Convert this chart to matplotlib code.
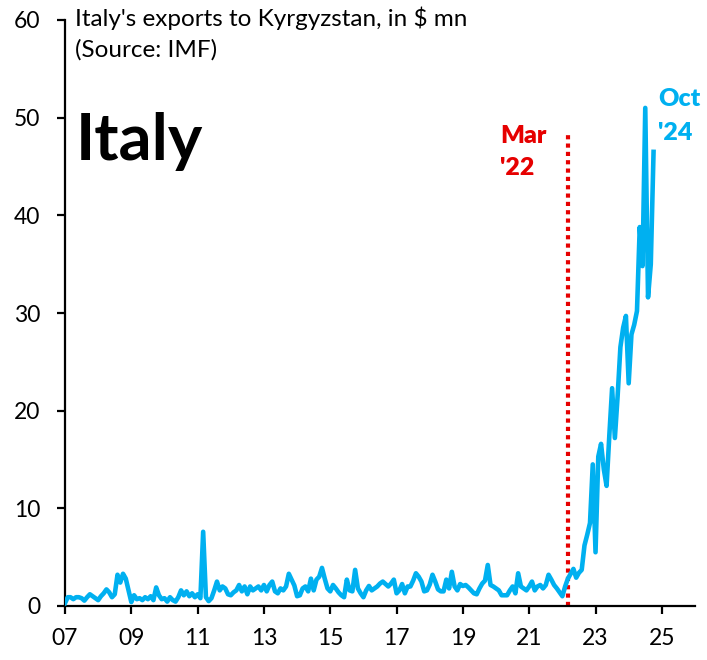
import numpy as np
import matplotlib
matplotlib.use("Agg")
import matplotlib.pyplot as plt

# monthly exports, $ mn, Jan 2007 .. Oct 2024
exports_07_10 = [0.3, 0.9, 0.9, 0.7, 0.9, 0.9, 0.8, 0.55, 0.9, 1.2, 1.0, 0.8,
                 0.6, 1.0, 1.3, 1.7, 1.4, 0.9, 1.2, 3.2, 2.4, 3.3, 2.8, 1.6,
                 0.4, 1.1, 0.7, 0.8, 0.6, 0.9, 0.7, 1.0, 0.6, 1.9, 1.1, 0.7,
                 0.8, 0.45, 0.9, 0.6, 0.45, 0.9, 1.6, 1.1, 1.5, 1.0, 1.3, 0.9]
exports_11_14 = [1.2, 0.8, 7.6, 0.9, 0.5, 0.8, 1.6, 2.5, 1.6, 2.0, 1.8, 1.2,
                 1.1, 1.4, 1.6, 2.15, 1.5, 2.0, 1.2, 2.0, 1.6, 1.8, 2.0, 1.6,
                 2.15, 1.5, 2.15, 2.5, 1.5, 1.3, 1.8, 1.6, 2.0, 3.3, 2.7, 2.1,
                 1.0, 1.1, 1.8, 2.0, 1.5, 2.8, 1.6, 2.7, 3.0, 3.9, 2.8, 1.8]
exports_15_18 = [1.5, 2.15, 1.8, 1.4, 1.1, 0.9, 2.7, 1.6, 1.5, 3.7, 1.8, 1.3,
                 0.9, 1.6, 2.05, 1.6, 1.8, 2.0, 2.3, 2.5, 2.25, 2.0, 2.3, 2.7,
                 1.3, 1.6, 2.25, 1.3, 2.0, 2.0, 2.6, 3.35, 3.0, 2.5, 1.5, 1.6,
                 2.2, 3.2, 2.5, 1.7, 1.5, 1.5, 2.7, 1.8, 3.5, 2.0, 1.6, 2.25]
exports_19_21 = [2.05, 2.15, 1.9, 1.6, 1.3, 1.2, 1.8, 2.3, 2.6, 4.2, 2.15, 2.0,
                 1.8, 1.6, 1.1, 1.1, 1.1, 1.6, 2.0, 1.3, 3.35, 2.0, 1.8, 1.6,
                 2.0, 2.5, 1.6, 2.0, 2.15, 1.8, 2.15, 3.2, 2.7, 2.15, 1.8, 1.4]
exports_22_24 = [1.0, 2.0, 2.8, 3.3, 3.8, 2.9, 3.4, 3.7, 6.2, 7.3, 8.5, 14.5,
                 5.5, 15.3, 16.6, 14.0, 12.3, 17.5, 22.3, 17.2, 21.5, 26.5, 28.5, 29.7,
                 22.8, 27.8, 28.8, 30.2, 38.8, 34.8, 51.0, 31.6, 35.0, 46.5]
exports = exports_07_10 + exports_11_14 + exports_15_18 + exports_19_21 + exports_22_24

year_labels = ["07", "09", "11", "13", "15", "17", "19", "21", "23", "25"]
invasion_month = 182  # Mar 2022, months since Jan 2007

blue = "#00B0F0"
red = "#E60000"
plt.rcParams["font.family"] = ["Lato", "DejaVu Sans"]

fig = plt.figure(figsize=(7.07, 6.6), dpi=100)
ax = fig.add_axes([65 / 707, 1 - 606 / 660, 630 / 707, 586 / 660])

months = np.arange(len(exports))
ax.plot(months, exports, color=blue, lw=3.3, solid_joinstyle="round", zorder=3)
ax.plot([invasion_month, invasion_month], [0, 48.6], color=red, lw=3,
        linestyle=(0, (1, 1)), dash_capstyle="butt", zorder=2)

ax.set_xlim(0, 228)
ax.set_ylim(0, 60)
ax.set_xticks(np.arange(len(year_labels)) * 24)
ax.set_xticklabels(year_labels)
ax.set_yticks(np.arange(0, 61, 10))
for s in ["top", "right"]:
    ax.spines[s].set_visible(False)
for s in ["left", "bottom"]:
    ax.spines[s].set_linewidth(1.6)
ax.tick_params(axis="both", direction="out", length=6, width=1.6, labelsize=16.5)
ax.tick_params(axis="x", pad=10)
ax.tick_params(axis="y", pad=12)

W, H = 707, 660
fig.text(75 / W, 1 - 26 / H, "Italy's exports to Kyrgyzstan, in $ mn", fontsize=17.5, va="baseline")
fig.text(75 / W, 1 - 57 / H, "(Source: IMF)", fontsize=17.5, va="baseline")
fig.text(76 / W, 1 - 160 / H, "Italy", fontsize=47, fontweight="bold", va="baseline")
fig.text(500 / W, 1 - 143 / H, "Mar", fontsize=18, fontweight="heavy", color=red, va="baseline")
fig.text(500 / W, 1 - 175 / H, "'22", fontsize=18, fontweight="heavy", color=red, va="baseline")
fig.text(658 / W, 1 - 106 / H, "Oct", fontsize=18, fontweight="heavy", color=blue, va="baseline")
fig.text(658 / W, 1 - 140 / H, "'24", fontsize=18, fontweight="heavy", color=blue, va="baseline")

fig.savefig("out.png", dpi=100)
